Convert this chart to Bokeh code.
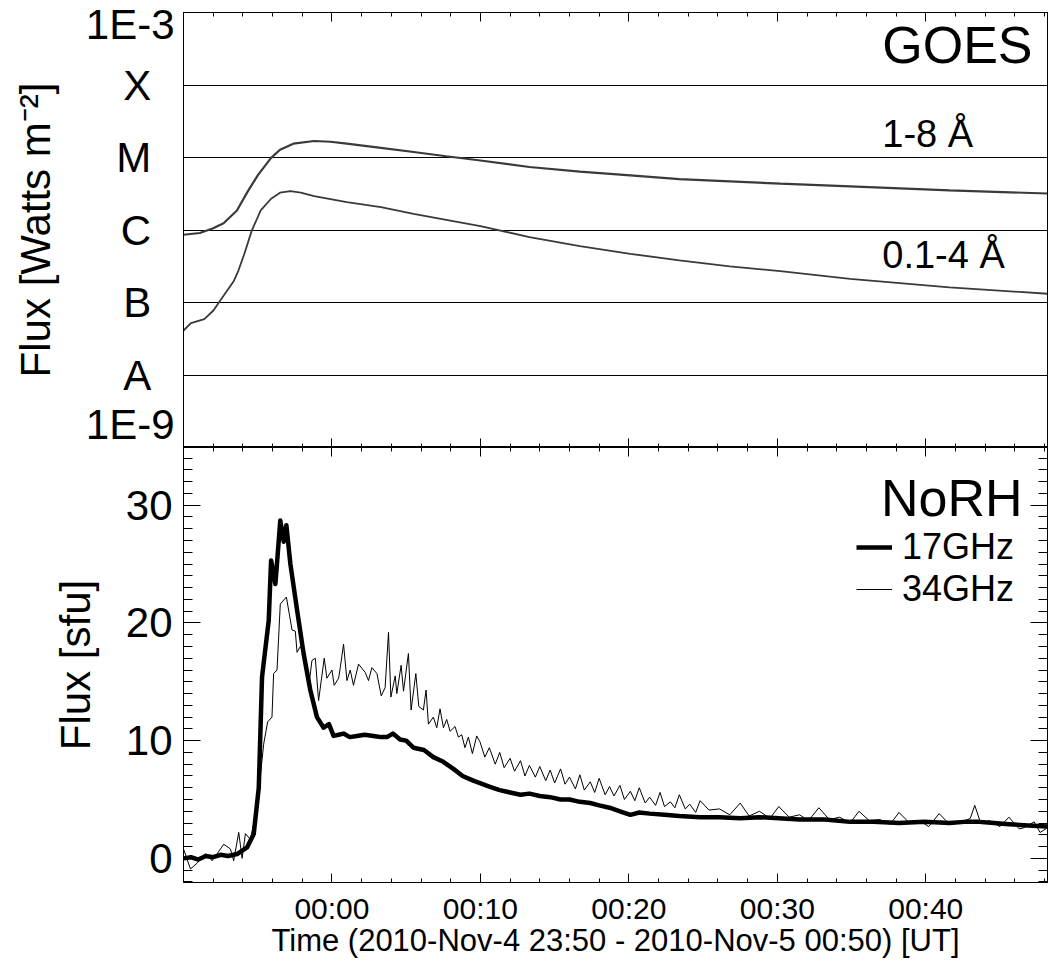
from bokeh.plotting import figure
from bokeh.models import FixedTicker, LinearAxis, LogAxis, Label, Legend, LegendItem, Range1d
from bokeh.layouts import column
from bokeh.embed import file_html
from bokeh.resources import INLINE

FONT = "Liberation Sans"

# ---------------- data (time in minutes after 2010-Nov-4 23:50 UT) ----------------
XMAX = 58.2
TICK_MINUTES = [10, 20, 30, 40, 50]
TICK_LABELS = ["00:00", "00:10", "00:20", "00:30", "00:40"]
DECADES = [1e-9, 1e-8, 1e-7, 1e-6, 1e-5, 1e-4, 1e-3]
CLASS_LEVELS = [1e-8, 1e-7, 1e-6, 1e-5, 1e-4]
CLASS_LABELS = ["A", "B", "C", "M", "X"]
SFU_TICKS = [0, 10, 20, 30]

# GOES 1-8 A
T_LONG = [0.0, 1.1, 2.0, 2.7, 3.6, 4.3, 5.0, 5.9, 6.5, 7.4, 8.8, 9.9, 11.0,
          13.3, 15.5, 17.7, 20.0, 23.3, 26.7, 30.1, 33.4, 36.8, 40.2, 44.9, 51.6, 58.2]
FLUX_LONG = [8.6e-7, 9.1e-7, 1.06e-6, 1.24e-6, 1.86e-6, 3.33e-6, 5.66e-6, 9.9e-6,
             1.28e-5, 1.55e-5, 1.69e-5, 1.65e-5, 1.55e-5, 1.36e-5, 1.19e-5, 1.04e-5,
             9.1e-6, 7.4e-6, 6.4e-6, 5.66e-6, 5.04e-6, 4.68e-6, 4.35e-6, 3.99e-6,
             3.52e-6, 3.19e-6]

# GOES 0.1-4 A
T_SHORT = [0.0, 0.5, 1.4, 2.0, 2.7, 3.4, 3.7, 4.1, 4.6, 5.2, 5.9, 6.5, 7.2, 7.9, 8.8,
           11.0, 13.3, 15.5, 17.7, 20.0, 23.3, 26.7, 30.1, 33.4, 36.8, 40.2, 44.9,
           51.6, 58.2]
FLUX_SHORT = [4.1e-8, 5.2e-8, 5.9e-8, 7.7e-8, 1.24e-7, 2.0e-7, 2.76e-7, 4.7e-7,
              9.8e-7, 1.86e-6, 2.7e-6, 3.27e-6, 3.44e-6, 3.27e-6, 2.93e-6, 2.42e-6,
              2.07e-6, 1.67e-6, 1.38e-6, 1.13e-6, 8.0e-7, 6.0e-7, 4.7e-7, 3.8e-7,
              3.16e-7, 2.7e-7, 2.12e-7, 1.62e-7, 1.32e-7]

# NoRH 17 GHz
T_17 = [0.0, 0.5, 1.0, 1.5, 2.0, 2.5, 3.0, 3.61,
        4.28, 4.73, 5.07, 5.29, 5.74, 5.90, 6.19, 6.52, 6.75, 6.93,
        7.20, 7.65, 8.09, 8.54, 8.99, 9.44, 9.8, 10.11, 10.45, 10.78,
        11.2, 11.68, 12.2, 12.80, 13.3, 13.70, 14.1, 14.59, 15.0, 15.49,
        16.2, 16.83, 17.5, 18.18, 18.8, 19.52, 19.97, 20.6, 21.3, 22.0,
        22.7, 23.3, 24.0, 24.7, 25.4, 26.0, 26.7, 27.4, 28.0, 28.7,
        29.4, 30.1, 30.7, 31.4, 32.4, 33.4, 34.8, 36.1, 37.5, 38.8,
        40.1, 41.5, 43.2, 44.9, 46.5, 48.2, 49.9, 51.6, 52.6, 53.6,
        54.6, 55.6, 56.9, 58.2]
SFU_17 = [0.0, 0.1, -0.1, 0.2, 0.1, 0.3, 0.2, 0.37,
          0.93, 2.07, 6.0, 15.4, 20.2, 25.3, 23.3, 28.7, 26.9, 28.3,
          25.0, 21.1, 17.4, 14.3, 12.0, 11.1, 11.4, 10.4, 10.5, 10.6,
          10.3, 10.4, 10.5, 10.4, 10.3, 10.3, 10.6, 10.1, 10.0, 9.4,
          9.2, 8.6, 8.2, 7.6, 7.0, 6.6, 6.4, 6.1, 5.8, 5.6,
          5.4, 5.5, 5.3, 5.2, 5.0, 5.0, 4.8, 4.7, 4.5, 4.3,
          4.0, 3.7, 3.9, 3.8, 3.7, 3.6, 3.5, 3.5, 3.4, 3.5,
          3.4, 3.3, 3.3, 3.1, 3.1, 3.0, 3.1, 3.0, 3.1, 3.1,
          3.0, 2.9, 2.8, 2.7]

# NoRH 34 GHz
T_34 = [0.0, 0.47, 0.92, 1.48, 1.93, 2.27, 2.71, 3.16, 3.38, 3.72,
        3.95, 4.17, 4.51, 4.96, 5.40, 5.67, 5.96, 6.07, 6.30, 6.52,
        6.93, 7.31, 7.53, 7.65, 7.87, 8.20, 8.43, 8.65, 8.88, 9.10,
        9.48, 9.66, 10.00, 10.15, 10.45, 10.56, 10.78, 11.01, 11.23, 11.45,
        11.79, 12.24, 12.46, 12.69, 13.03, 13.32, 13.58, 13.81, 13.97, 14.26,
        14.37, 14.66, 14.82, 15.15, 15.33, 15.65, 15.85, 16.16, 16.34, 16.50,
        16.83, 17.06, 17.28, 17.51, 17.73, 17.96, 18.29, 18.52, 18.74, 18.96,
        19.19, 19.46, 19.75, 19.97,
        20.3, 20.6, 21.0, 21.3, 21.6, 22.0, 22.3, 22.7, 23.0, 23.3,
        23.7, 24.0, 24.4, 24.7, 25.0, 25.4, 25.7, 26.0, 26.4, 26.7,
        27.0, 27.4, 27.7, 28.0, 28.4, 28.7, 29.0, 29.4, 29.7, 30.1,
        30.4, 30.7, 31.1, 31.4, 31.8, 32.1, 32.4, 32.8, 33.1, 33.4,
        33.8, 34.1, 34.5, 34.8, 35.4, 36.1, 36.8, 37.5, 38.1, 38.8,
        39.5, 40.1, 40.8, 41.5, 42.1, 42.8, 43.5, 44.2, 44.9, 45.5,
        46.2, 46.9, 47.6, 48.2, 48.9, 49.6, 50.2, 50.9, 51.6, 52.3,
        53.0, 53.3, 53.7, 54.3, 55.0, 55.6, 56.3, 56.6, 57.3, 57.7, 58.2]
SFU_34 = [0.8, -0.9, -0.4, 0.4, -0.2, 0.4, 1.2, 0.8, -0.2, 2.2,
          0.0, 2.1, 1.6, 4.3, 9.7, 11.6, 12.0, 15.7, 16.0, 21.6,
          22.2, 19.4, 19.3, 17.5, 18.0, 17.1, 14.5, 16.8, 17.0, 13.4,
          17.0, 15.3, 16.0, 14.7, 15.3, 16.2, 18.2, 15.1, 16.0, 14.7,
          16.5, 15.8, 15.1, 16.2, 15.7, 13.8, 14.5, 19.2, 13.7, 15.5,
          14.0, 16.4, 14.2, 17.4, 12.6, 15.7, 12.9, 12.6, 14.3, 11.4,
          12.0, 11.1, 12.7, 11.1, 11.8, 10.8, 11.2, 10.3, 10.5, 9.4,
          10.3, 8.9, 10.4, 9.9,
          8.6, 9.4, 8.0, 9.0, 7.7, 8.5, 7.4, 8.3, 7.0, 7.9,
          6.9, 7.8, 6.6, 7.5, 6.4, 7.6, 6.3, 6.9, 5.9, 7.1,
          5.8, 6.5, 5.6, 6.8, 5.4, 6.1, 5.3, 6.2, 5.0, 5.7,
          4.9, 6.0, 4.7, 5.2, 4.5, 5.6, 4.4, 4.8, 4.3, 5.4,
          4.2, 4.6, 3.9, 4.9, 4.1, 4.2, 3.7, 4.7, 3.6, 4.0,
          3.4, 4.4, 3.5, 3.7, 3.2, 4.3, 3.3, 3.5, 3.0, 4.0,
          3.2, 3.3, 2.9, 3.9, 3.0, 3.2, 2.7, 3.8, 2.9, 3.0,
          3.4, 4.5, 3.0, 3.2, 2.7, 3.5, 2.5, 2.6, 3.1, 2.2, 2.6]

# ---------------- helpers ----------------
X_MINOR = list(range(2, 59, 2))
Y_MINOR = list(range(-2, 35))
W = 1049


def style_axis(ax, major_in, minor_in, labels=False, size="42px", standoff=0):
    ax.axis_line_color = "black"
    ax.axis_line_width = 1
    ax.major_tick_line_color = "black"
    ax.minor_tick_line_color = "black"
    ax.major_tick_in = major_in
    ax.major_tick_out = 0
    ax.minor_tick_in = minor_in
    ax.minor_tick_out = 0
    ax.major_label_text_font = FONT
    ax.major_label_text_color = "black"
    ax.axis_label_text_font = FONT
    ax.axis_label_text_font_style = "normal"
    ax.axis_label_text_color = "black"
    if labels:
        ax.major_label_text_font_size = size
        ax.major_label_standoff = standoff
    else:
        ax.major_label_text_font_size = "1px"
        ax.major_label_text_alpha = 0
        ax.major_label_standoff = 0


def xticker():
    return FixedTicker(ticks=TICK_MINUTES, minor_ticks=X_MINOR)


# ---------------- top panel: GOES ----------------
top = figure(width=W, height=447, x_range=Range1d(0, XMAX),
             y_range=Range1d(1e-9, 1e-3), y_axis_type="log",
             output_backend="svg", toolbar_location=None,
             min_border_left=183, min_border_right=2,
             min_border_top=12, min_border_bottom=0)
top.outline_line_color = "black"
top.xgrid.visible = False
top.ygrid.ticker = FixedTicker(ticks=CLASS_LEVELS)
top.ygrid.grid_line_color = "black"
top.ygrid.grid_line_alpha = 1.0
top.ygrid.grid_line_width = 1

tb = top.xaxis[0]
tb.ticker = xticker()
style_axis(tb, 9, 4)
ta = LinearAxis(ticker=xticker())
style_axis(ta, 9, 4)
top.add_layout(ta, "above")

# inner left axis: tick marks only
tl = top.yaxis[0]
tl.ticker = FixedTicker(ticks=DECADES, minor_ticks=[])
style_axis(tl, 17, 0)
tl.major_label_overrides = {d: " " for d in DECADES}

# outer left axis: text only (1E-3 / 1E-9 pulled inside, class letters)
pos_top = 10 ** -3.15
pos_bot = 10 ** -8.93
lab_ticks = [pos_bot] + CLASS_LEVELS + [pos_top]
lab_ovr = {pos_bot: "1E-9", pos_top: "1E-3"}
for lv, lab in zip(CLASS_LEVELS, CLASS_LABELS):
    lab_ovr[lv] = lab + "\u00a0\u00a0"
tlab = LogAxis(ticker=FixedTicker(ticks=lab_ticks, minor_ticks=[]))
style_axis(tlab, 0, 0, labels=True, size="42px", standoff=9)
tlab.axis_line_color = None
tlab.major_tick_line_color = None
tlab.minor_tick_line_color = None
tlab.major_label_overrides = lab_ovr
tlab.axis_label = "Flux [Watts m\u207b\u00b2]"
tlab.axis_label_text_font_size = "42px"
tlab.axis_label_standoff = 24
top.add_layout(tlab, "left")

tr = LogAxis(ticker=FixedTicker(ticks=DECADES, minor_ticks=[]))
style_axis(tr, 17, 0)
tr.major_label_overrides = {d: " " for d in DECADES}
top.add_layout(tr, "right")

top.line(T_LONG, FLUX_LONG, line_color="#3a3a3a", line_width=2.2)
top.line(T_SHORT, FLUX_SHORT, line_color="#3a3a3a", line_width=1.8)

top.add_layout(Label(x=XMAX, y=10 ** -3.455, x_offset=-15, text="GOES",
                     text_align="right", text_baseline="alphabetic",
                     text_font=FONT, text_font_size="52px", text_color="black"))
top.add_layout(Label(x=47.07, y=10 ** -4.67, text="1-8 \u00c5",
                     text_align="left", text_baseline="alphabetic",
                     text_font=FONT, text_font_size="38px", text_color="black"))
top.add_layout(Label(x=47.07, y=10 ** -6.35, text="0.1-4 \u00c5",
                     text_align="left", text_baseline="alphabetic",
                     text_font=FONT, text_font_size="38px", text_color="black"))

# ---------------- bottom panel: NoRH ----------------
bot = figure(width=W, height=517, x_range=top.x_range,
             y_range=Range1d(-2.05, 34.9),
             output_backend="svg", toolbar_location=None,
             min_border_left=183, min_border_right=2,
             min_border_top=0, min_border_bottom=82)
bot.outline_line_color = "black"
bot.xgrid.visible = False
bot.ygrid.visible = False

bb = bot.xaxis[0]
bb.ticker = xticker()
style_axis(bb, 9, 4, labels=True, size="30px", standoff=9)
bb.major_label_overrides = dict(zip(TICK_MINUTES, TICK_LABELS))
bb.axis_label = "Time (2010-Nov-4 23:50 - 2010-Nov-5 00:50) [UT]"
bb.axis_label_text_font_size = "31px"
bb.axis_label_standoff = -5
ba = LinearAxis(ticker=xticker())
style_axis(ba, 9, 4)
bot.add_layout(ba, "above")

bl = bot.yaxis[0]
bl.ticker = FixedTicker(ticks=SFU_TICKS, minor_ticks=Y_MINOR)
style_axis(bl, 17, 9, labels=True, size="42px", standoff=11)
bl.axis_label = "Flux [sfu]"
bl.axis_label_text_font_size = "42px"
bl.axis_label_standoff = 24
br = LinearAxis(ticker=FixedTicker(ticks=SFU_TICKS, minor_ticks=Y_MINOR))
style_axis(br, 17, 9)
bot.add_layout(br, "right")

r17 = bot.line(T_17, SFU_17, line_color="black", line_width=4.5, line_join="round")
r34 = bot.line(T_34, SFU_34, line_color="black", line_width=1)

bot.add_layout(Label(x=XMAX, y=30.6, x_offset=-25, text="NoRH",
                     text_align="right", text_baseline="alphabetic",
                     text_font=FONT, text_font_size="52px", text_color="black"))

legend = Legend(items=[LegendItem(label="17GHz", renderers=[r17]),
                       LegendItem(label="34GHz", renderers=[r34])],
                location=(673, 272), label_text_font=FONT,
                label_text_font_size="36px", label_text_color="black",
                glyph_width=36, glyph_height=36, label_height=36,
                label_standoff=10, spacing=0, padding=0, margin=0,
                border_line_alpha=0, background_fill_alpha=0)
bot.add_layout(legend)

layout = column(top, bot)
open("out.html", "w").write(file_html(layout, INLINE))
